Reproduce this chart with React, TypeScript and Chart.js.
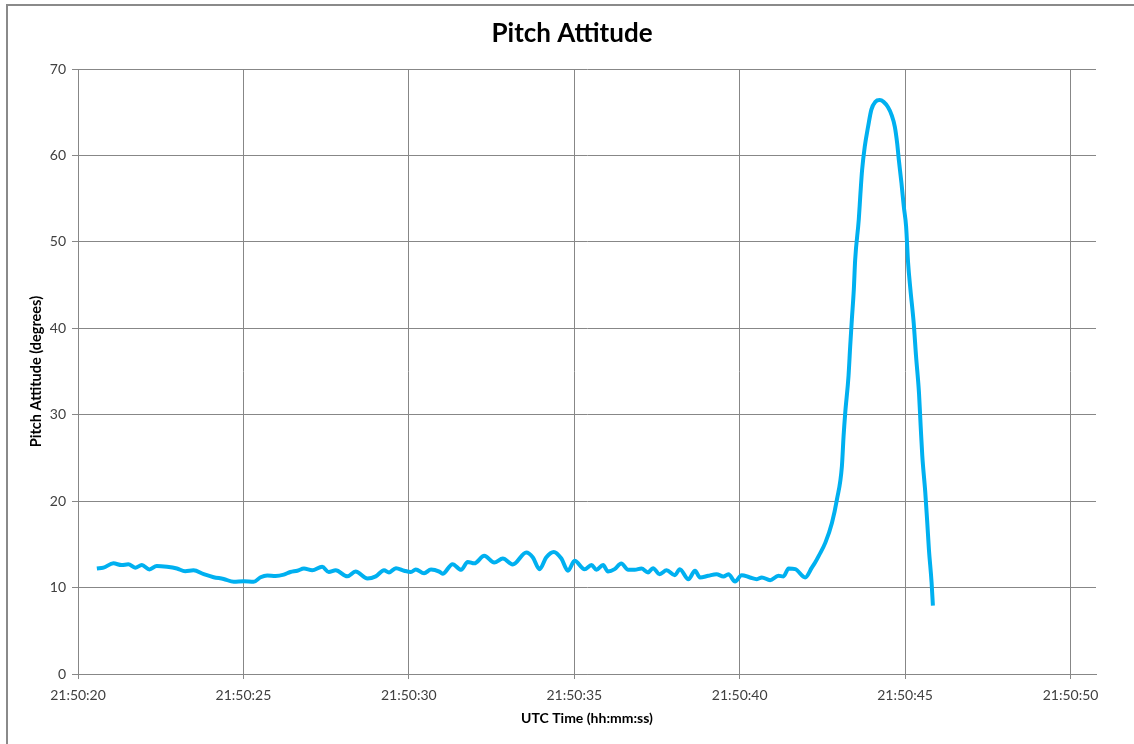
import React, { useEffect, useRef } from "react";
import { Chart, registerables } from "chart.js";

Chart.register(...registerables);

// seconds after 21:50:00 UTC
const timeSec = [
  20.57, 20.77, 21.07, 21.32, 21.52, 21.73, 21.93, 22.16, 22.38, 22.69,
  22.99, 23.24, 23.49, 23.80, 24.10, 24.40, 24.71, 25.01, 25.31, 25.52,
  25.72, 25.97, 26.22, 26.42, 26.63, 26.83, 27.08, 27.38, 27.58, 27.79,
  28.14, 28.39, 28.75, 29.00, 29.25, 29.40, 29.61, 29.86, 30.06, 30.21,
  30.46, 30.67, 30.92, 31.02, 31.32, 31.58, 31.78, 31.98, 32.28, 32.58,
  32.84, 33.14, 33.55, 33.75, 33.95, 34.15, 34.38, 34.61, 34.81, 35.01,
  35.31, 35.52, 35.67, 35.87, 36.02, 36.22, 36.42, 36.63, 36.83, 37.03,
  37.23, 37.38, 37.58, 37.79, 38.04, 38.19, 38.45, 38.65, 38.80, 39.05,
  39.30, 39.51, 39.66, 39.86, 40.06, 40.31, 40.52, 40.67, 40.92, 41.17,
  41.32, 41.48, 41.68, 41.98, 42.18, 42.28, 42.39, 42.59, 42.79, 42.94,
  43.09, 43.14, 43.19, 43.29, 43.34, 43.39, 43.45, 43.49, 43.60, 43.65,
  43.70, 43.78, 43.88, 43.98, 44.10, 44.23, 44.35, 44.48, 44.59, 44.69,
  44.76, 44.81, 44.89, 44.96, 45.03, 45.09, 45.16, 45.26, 45.33, 45.42,
  45.47, 45.52, 45.61, 45.67, 45.72, 45.80, 45.84,
];

const pitchDeg = [
  12.2, 12.3, 12.8, 12.6, 12.7, 12.3, 12.6, 12.1, 12.5, 12.4,
  12.2, 11.9, 12.0, 11.55, 11.2, 11.0, 10.66, 10.74, 10.66, 11.2,
  11.4, 11.35, 11.5, 11.8, 11.95, 12.2, 12.0, 12.4, 11.8, 12.0,
  11.3, 11.85, 11.05, 11.3, 12.0, 11.75, 12.25, 11.95, 11.8, 12.1,
  11.65, 12.1, 11.85, 11.6, 12.7, 12.05, 12.97, 12.8, 13.67, 12.9,
  13.36, 12.67, 14.05, 13.48, 12.13, 13.48, 14.13, 13.36, 11.94, 13.1,
  12.13, 12.6, 12.05, 12.6, 11.86, 12.13, 12.79, 12.05, 12.05, 12.2,
  11.75, 12.25, 11.55, 12.0, 11.44, 12.13, 10.97, 11.94, 11.17, 11.36,
  11.55, 11.28, 11.55, 10.7, 11.44, 11.17, 10.97, 11.17, 10.86, 11.36,
  11.28, 12.2, 12.13, 11.17, 12.3, 12.9, 13.67, 15.2, 17.5, 20.2,
  24.06, 27.5, 30.2, 34.5, 37.9, 41.0, 44.5, 47.9, 52.6, 55.6,
  58.3, 61.0, 63.3, 65.3, 66.2, 66.4, 66.2, 65.6, 64.7, 63.3,
  61.4, 59.5, 56.8, 54.1, 51.8, 47.6, 44.5, 40.6, 36.8, 32.5,
  28.7, 25.2, 21.0, 17.5, 14.4, 10.6, 7.9,
];

const xTickSeconds = [20, 25, 30, 35, 40, 45, 50];
const xTickLabels = ["21:50:20", "21:50:25", "21:50:30", "21:50:35", "21:50:40", "21:50:45", "21:50:50"];
const yTicks = [0, 10, 20, 30, 40, 50, 60, 70];
const chartTitle = "Pitch Attitude";

const FONT = "Lato, 'Open Sans', sans-serif";

const titlePlugin = {
  id: "centeredTitle",
  afterDraw(chart: any) {
    const ctx = chart.ctx;
    ctx.save();
    ctx.font = `bold 26px ${FONT}`;
    ctx.fillStyle = "#000";
    ctx.textAlign = "center";
    ctx.textBaseline = "middle";
    ctx.fillText(chartTitle, 572, 34);
    ctx.restore();
  },
};

export default function App() {
  const ref = useRef<HTMLCanvasElement | null>(null);

  useEffect(() => {
    if (!ref.current) return;
    const chart = new Chart(ref.current, {
      type: "line",
      data: {
        datasets: [
          {
            data: timeSec.map((t, i) => ({ x: t, y: pitchDeg[i] })),
            borderColor: "#00B0F0",
            borderWidth: 4,
            pointRadius: 0,
            cubicInterpolationMode: "monotone",
            fill: false,
          },
        ],
      },
      options: {
        responsive: false,
        animation: false,
        layout: { padding: { left: 0, right: 38, top: 69, bottom: 0 } },
        plugins: {
          legend: { display: false },
          tooltip: { enabled: false },
          title: { display: false },
        },
        scales: {
          x: {
            type: "linear",
            min: 20,
            max: 50.77,
            afterBuildTicks: (scale: any) => {
              scale.ticks = xTickSeconds.map((v) => ({ value: v }));
            },
            afterFit: (scale: any) => {
              scale.height = 70;
            },
            grid: { color: "#878787", lineWidth: 1, tickLength: 5, drawTicks: true },
            border: { color: "#878787", width: 1 },
            ticks: {
              color: "#404040",
              font: { family: FONT, size: 14 },
              padding: 8,
              maxRotation: 0,
              autoSkip: false,
              callback: (v: any) => {
                const i = xTickSeconds.indexOf(Number(v));
                return i >= 0 ? xTickLabels[i] : "";
              },
            },
            title: {
              display: true,
              text: "UTC Time (hh:mm:ss)",
              color: "#000",
              font: { family: FONT, size: 14, weight: "bold" },
              padding: { top: 17.6, bottom: 17.6 },
            },
          },
          y: {
            type: "linear",
            min: 0,
            max: 70,
            afterBuildTicks: (scale: any) => {
              scale.ticks = yTicks.map((v) => ({ value: v }));
            },
            afterFit: (scale: any) => {
              scale.width = 78;
            },
            grid: { color: "#878787", lineWidth: 1, tickLength: 6, drawTicks: true },
            border: { color: "#878787", width: 1 },
            ticks: {
              color: "#404040",
              font: { family: FONT, size: 14 },
              padding: 6,
              autoSkip: false,
            },
            title: {
              display: true,
              text: "Pitch Attitude (degrees)",
              color: "#000",
              font: { family: FONT, size: 14.5, weight: "bold" },
              padding: { top: 27.3, bottom: 0 },
            },
          },
        },
      },
      plugins: [titlePlugin],
    });
    return () => chart.destroy();
  }, []);

  return (
    <div style={{ position: "fixed", left: 0, top: 0, width: 1134, height: 744, overflow: "hidden", background: "#fff" }}>
      <div
        style={{
          position: "absolute",
          left: 6,
          top: 4,
          width: 1300,
          height: 900,
          borderLeft: "2px solid #8a8a8a",
          borderTop: "2px solid #8a8a8a",
        }}
      />
      <canvas ref={ref} width={1134} height={744} style={{ position: "absolute", left: 0, top: 0 }} />
    </div>
  );
}
